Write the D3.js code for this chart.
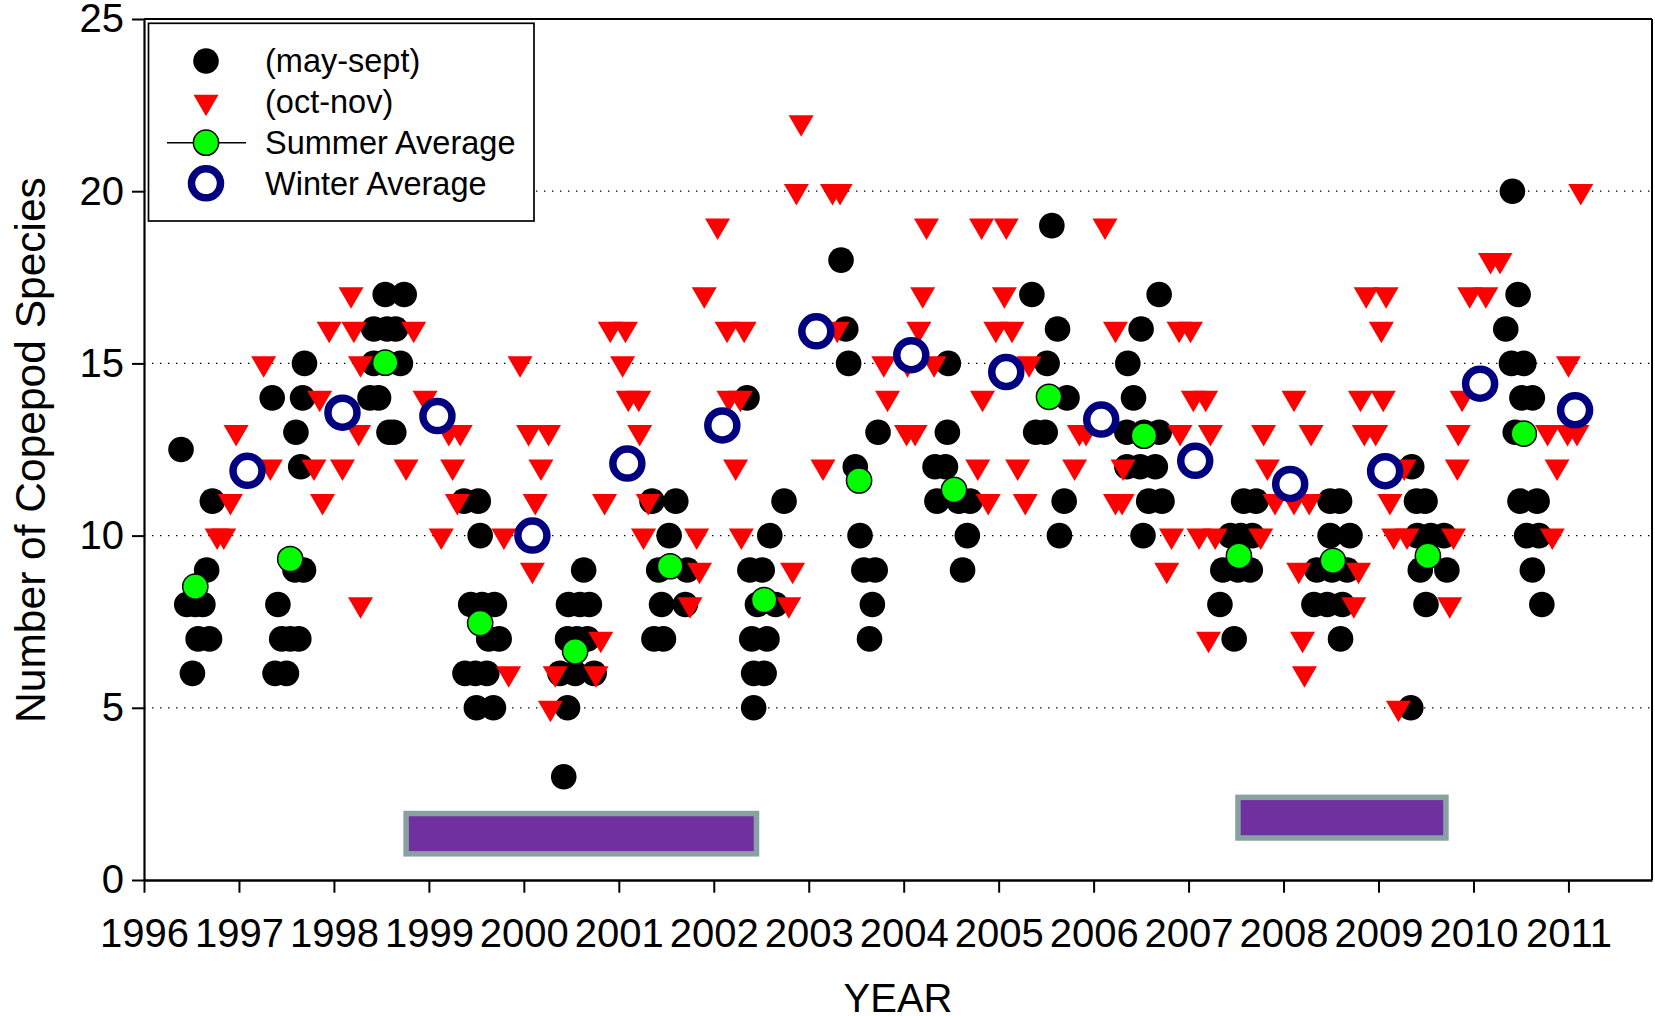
<!DOCTYPE html>
<html>
<head>
<meta charset="utf-8">
<script src="https://cdn.jsdelivr.net/npm/d3@7"></script>
<style>
  html, body { margin: 0; padding: 0; background: #fff; }
  svg { display: block; }
  text { font-family: Arial, "Liberation Sans", sans-serif; fill: #000; }
</style>
</head>
<body>
<svg id="chart" width="1655" height="1016"></svg>
<script>
// Individual samples, May–September: [decimal year, species count]
const mayToSept = [
  [1996.39,12.5],[1996.72,11],[1996.66,9],[1996.45,8],[1996.54,8],[1996.62,8],[1996.57,7],[1996.69,7],[1996.51,6],
  [1997.35,14],[1997.69,15],[1997.67,14],[1997.60,13],[1997.65,12],[1997.59,9],[1997.68,9],[1997.41,8],[1997.45,7],[1997.54,7],[1997.63,7],[1997.38,6],[1997.50,6],
  [1998.54,17],[1998.74,17],[1998.42,16],[1998.56,16],[1998.65,16],[1998.42,15],[1998.70,15],[1998.38,14],[1998.47,14],[1998.58,13],[1998.63,13],
  [1999.37,11],[1999.52,11],[1999.54,10],[1999.44,8],[1999.56,8],[1999.69,8],[1999.63,7],[1999.74,7],[1999.38,6],[1999.49,6],[1999.61,6],[1999.50,5],[1999.68,5],
  [2000.63,9],[2000.47,8],[2000.59,8],[2000.69,8],[2000.46,7],[2000.56,7],[2000.67,7],[2000.38,6],[2000.54,6],[2000.74,6],[2000.46,5],[2000.42,3],
  [2001.35,11],[2001.60,11],[2001.53,10],[2001.42,9],[2001.72,9],[2001.45,8],[2001.70,8],[2001.37,7],[2001.47,7],
  [2002.35,14],[2002.74,11],[2002.59,10],[2002.38,9],[2002.51,9],[2002.46,8],[2002.65,8],[2002.40,7],[2002.56,7],[2002.42,6],[2002.53,6],[2002.42,5],
  [2003.34,18],[2003.39,16],[2003.42,15],[2003.73,13],[2003.49,12],[2003.54,10],[2003.58,9],[2003.70,9],[2003.67,8],[2003.64,7],
  [2004.47,15],[2004.46,13],[2004.33,12],[2004.44,12],[2004.35,11],[2004.58,11],[2004.70,11],[2004.67,10],[2004.62,9],
  [2005.56,19],[2005.35,17],[2005.62,16],[2005.51,15],[2005.72,14],[2005.39,13],[2005.49,13],[2005.69,11],[2005.64,10],
  [2006.69,17],[2006.50,16],[2006.36,15],[2006.42,14],[2006.35,13],[2006.53,13],[2006.69,13],[2006.35,12],[2006.49,12],[2006.65,12],[2006.58,11],[2006.72,11],[2006.52,10],
  [2007.58,11],[2007.71,11],[2007.44,10],[2007.55,10],[2007.67,10],[2007.36,9],[2007.52,9],[2007.65,9],[2007.33,8],[2007.48,7],
  [2008.49,11],[2008.59,11],[2008.49,10],[2008.70,10],[2008.35,9],[2008.51,9],[2008.67,9],[2008.32,8],[2008.46,8],[2008.62,8],[2008.60,7],
  [2009.35,12],[2009.40,11],[2009.49,11],[2009.41,10],[2009.55,10],[2009.69,10],[2009.44,9],[2009.72,9],[2009.50,8],[2009.34,5],
  [2010.41,20],[2010.47,17],[2010.34,16],[2010.40,15],[2010.53,15],[2010.51,14],[2010.62,14],[2010.44,13],[2010.49,11],[2010.67,11],[2010.56,10],[2010.69,10],[2010.62,9],[2010.72,8]
];

// Individual samples, October–November (and the following winter months)
const octToNov = [
  [1996.77,10],[1996.84,10],[1996.91,11],[1996.97,13],[1997.26,15],[1997.33,12],
  [1997.79,12],[1997.85,14],[1997.88,11],[1997.95,16],[1998.09,12],[1998.18,17],[1998.21,16],[1998.28,15],[1998.26,13],[1998.28,8],
  [1998.76,12],[1998.84,16],[1998.96,14],[1999.13,10],[1999.21,13],[1999.33,13],[1999.25,12],[1999.30,11],
  [1999.79,10],[1999.84,6],[1999.96,15],[2000.05,13],[2000.26,13],[2000.18,12],[2000.12,11],[2000.09,9],
  [2000.28,5],[2000.33,6],[2000.76,6],[2000.81,7],[2000.85,11],[2000.91,16],[2001.07,16],[2001.04,15],[2001.10,14],[2001.21,14],[2001.22,13],[2001.26,10],[2001.31,11],
  [2001.75,8],[2001.82,10],[2001.85,9],[2001.90,17],[2002.04,19],[2002.14,16],[2002.32,16],[2002.16,14],[2002.28,14],[2002.23,12],[2002.29,10],
  [2002.79,8],[2002.83,9],[2002.87,20],[2002.92,22],[2003.15,12],[2003.25,20],[2003.33,20],[2003.30,16],
  [2003.79,15],[2003.83,14],[2004.03,13],[2004.12,13],[2004.04,15],[2004.16,16],[2004.20,17],[2004.24,19],[2004.32,15],
  [2004.78,12],[2004.82,19],[2004.83,14],[2004.89,11],[2004.97,16],[2005.06,17],[2005.08,19],[2005.14,16],[2005.20,12],[2005.28,11],[2005.32,15],
  [2005.80,12],[2005.85,13],[2005.92,13],[2006.12,19],[2006.23,16],[2006.23,11],[2006.30,11],[2006.31,12],
  [2006.77,9],[2006.82,10],[2006.90,16],[2006.91,13],[2007.02,16],[2007.05,14],[2007.11,10],[2007.18,14],[2007.23,13],[2007.28,10],[2007.21,7],
  [2007.76,10],[2007.79,13],[2007.83,12],[2007.91,11],[2008.11,11],[2008.27,11],[2008.11,14],[2008.29,13],[2008.16,9],[2008.20,7],[2008.22,6],
  [2008.74,8],[2008.79,9],[2008.81,14],[2008.85,13],[2008.97,13],[2008.87,17],[2009.03,16],[2009.05,14],[2009.08,17],[2009.12,11],[2009.16,10],[2009.30,10],[2009.21,5],[2009.27,12],
  [2009.75,8],[2009.79,10],[2009.83,12],[2009.84,13],[2009.88,14],[2009.96,17],[2010.13,17],[2010.18,18],[2010.28,18],
  [2010.78,13],[2010.83,10],[2010.88,12],[2010.99,13],[2011.09,13],[2011.00,15],[2011.13,20]
];

// Seasonal means
const summerAverage = [
  [1996.54,8.52],[1997.54,9.32],[1998.54,15.02],[1999.54,7.46],[2000.54,6.64],[2001.54,9.11],[2002.53,8.13],
  [2003.53,11.6],[2004.53,11.33],[2005.53,14.03],[2006.53,12.9],[2007.53,9.41],[2008.52,9.27],[2009.52,9.41],[2010.53,12.96]
];
const winterAverage = [
  [1997.09,11.88],[1998.09,13.57],[1999.09,13.47],[2000.09,10.0],[2001.09,12.09],[2002.09,13.2],[2003.08,15.93],
  [2004.08,15.24],[2005.08,14.75],[2006.08,13.37],[2007.07,12.17],[2008.07,11.5],[2009.07,11.87],[2010.07,14.41],[2011.07,13.64]
];

// Highlighted periods: [start year, end year, lower value, upper value]
const periods = [
  [1998.76, 2002.45, 0.76, 1.93],
  [2007.52, 2009.71, 1.22, 2.40]
];

const yearTicks = d3.range(1996, 2012);
const countTicks = [0, 5, 10, 15, 20, 25];
const gridValues = [5, 10, 15, 20];
const legendLabels = ["(may-sept)", "(oct-nov)", "Summer Average", "Winter Average"];

const svg = d3.select("#chart");
const x = d3.scaleLinear().domain([1996, 2011.88]).range([144, 1652]);
const y = d3.scaleLinear().domain([0, 25]).range([880, 19]);

svg.append("rect").attr("width", 1655).attr("height", 1016).attr("fill", "#fff");

// dotted horizontal grid
svg.append("g").selectAll("line").data(gridValues).join("line")
  .attr("x1", x(1996)).attr("x2", x(2011.88))
  .attr("y1", d => y(d)).attr("y2", d => y(d))
  .attr("stroke", "#000").attr("stroke-width", 1.2)
  .attr("stroke-dasharray", "1.4,6.6");

// highlighted periods
svg.append("g").selectAll("rect").data(periods).join("rect")
  .attr("x", d => x(d[0])).attr("width", d => x(d[1]) - x(d[0]))
  .attr("y", d => y(d[3])).attr("height", d => y(d[2]) - y(d[3]))
  .attr("fill", "#7030a0").attr("stroke", "#88a2a2").attr("stroke-width", 5.5);

// symbol helpers
const tri = (w, h) => `M${-w/2},${-h/3}L${w/2},${-h/3}L0,${2*h/3}Z`;

svg.append("g").selectAll("circle").data(mayToSept).join("circle")
  .attr("cx", d => x(d[0])).attr("cy", d => y(d[1])).attr("r", 12.8)
  .attr("fill", "#000");

svg.append("g").selectAll("path").data(octToNov).join("path")
  .attr("transform", d => `translate(${x(d[0])},${y(d[1])})`)
  .attr("d", tri(25, 21.5)).attr("fill", "#ff0000");

svg.append("g").selectAll("circle").data(summerAverage).join("circle")
  .attr("cx", d => x(d[0])).attr("cy", d => y(d[1])).attr("r", 12.6)
  .attr("fill", "#00ff00").attr("stroke", "#000").attr("stroke-width", 1.5);

svg.append("g").selectAll("circle").data(winterAverage).join("circle")
  .attr("cx", d => x(d[0])).attr("cy", d => y(d[1])).attr("r", 14.5)
  .attr("fill", "#fff").attr("stroke", "#000080").attr("stroke-width", 7.5);

// axes
const yAxis = svg.append("g").attr("transform", `translate(${x(1996)},0)`)
  .call(d3.axisLeft(y).tickValues(countTicks).tickSize(12).tickSizeOuter(0).tickPadding(8));
yAxis.select(".domain").attr("stroke-width", 2.2);
yAxis.selectAll(".tick line").attr("stroke-width", 2);
yAxis.selectAll(".tick text").attr("font-size", 40).attr("font-family", "Arial, 'Liberation Sans', sans-serif");

const xAxis = svg.append("g").attr("transform", `translate(0,${y(0)})`)
  .call(d3.axisBottom(x).tickValues(yearTicks).tickFormat(d3.format("d")).tickSize(12.7).tickSizeOuter(0));
xAxis.select(".domain").attr("stroke-width", 2.6);
xAxis.selectAll(".tick line").attr("stroke-width", 2);
xAxis.selectAll(".tick text")
  .attr("font-size", 40).attr("font-family", "Arial, 'Liberation Sans', sans-serif")
  .attr("y", 67).attr("dy", null);

// top and right frame
svg.append("line").attr("x1", x(1996)).attr("x2", x(2011.88)).attr("y1", y(25)).attr("y2", y(25))
  .attr("stroke", "#000").attr("stroke-width", 2);
svg.append("line").attr("x1", x(2011.88)).attr("x2", x(2011.88)).attr("y1", y(25)).attr("y2", y(0))
  .attr("stroke", "#000").attr("stroke-width", 2);

// axis titles
svg.append("text").attr("transform", "translate(45,450) rotate(-90)")
  .attr("text-anchor", "middle").attr("font-size", 42.5).text("Number of Copepod Species");
svg.append("text").attr("x", 898).attr("y", 1012)
  .attr("text-anchor", "middle").attr("font-size", 40).text("YEAR");

// legend
const lg = svg.append("g");
lg.append("rect").attr("x", 148.5).attr("y", 23.3).attr("width", 385.5).attr("height", 197.7)
  .attr("fill", "#fff").attr("stroke", "#000").attr("stroke-width", 1.7);
const symX = 206, textX = 265;
const rowSym = [61, 102, 142.7, 183.3];
const rowText = [72, 113, 153.5, 195];
lg.append("circle").attr("cx", symX).attr("cy", rowSym[0]).attr("r", 12.8).attr("fill", "#000");
lg.append("path").attr("transform", `translate(${symX},${rowSym[1]})`).attr("d", tri(25, 21.5)).attr("fill", "#ff0000");
lg.append("line").attr("x1", 167).attr("x2", 246).attr("y1", rowSym[2]).attr("y2", rowSym[2])
  .attr("stroke", "#000").attr("stroke-width", 1.5);
lg.append("circle").attr("cx", symX).attr("cy", rowSym[2]).attr("r", 12.6)
  .attr("fill", "#00ff00").attr("stroke", "#000").attr("stroke-width", 1.5);
lg.append("circle").attr("cx", symX).attr("cy", rowSym[3]).attr("r", 14.5)
  .attr("fill", "#fff").attr("stroke", "#000080").attr("stroke-width", 7.5);
lg.selectAll("text.lab").data(legendLabels).join("text").attr("class", "lab")
  .attr("x", textX).attr("y", (d, i) => rowText[i]).attr("font-size", 32.5).text(d => d);
</script>
</body>
</html>
